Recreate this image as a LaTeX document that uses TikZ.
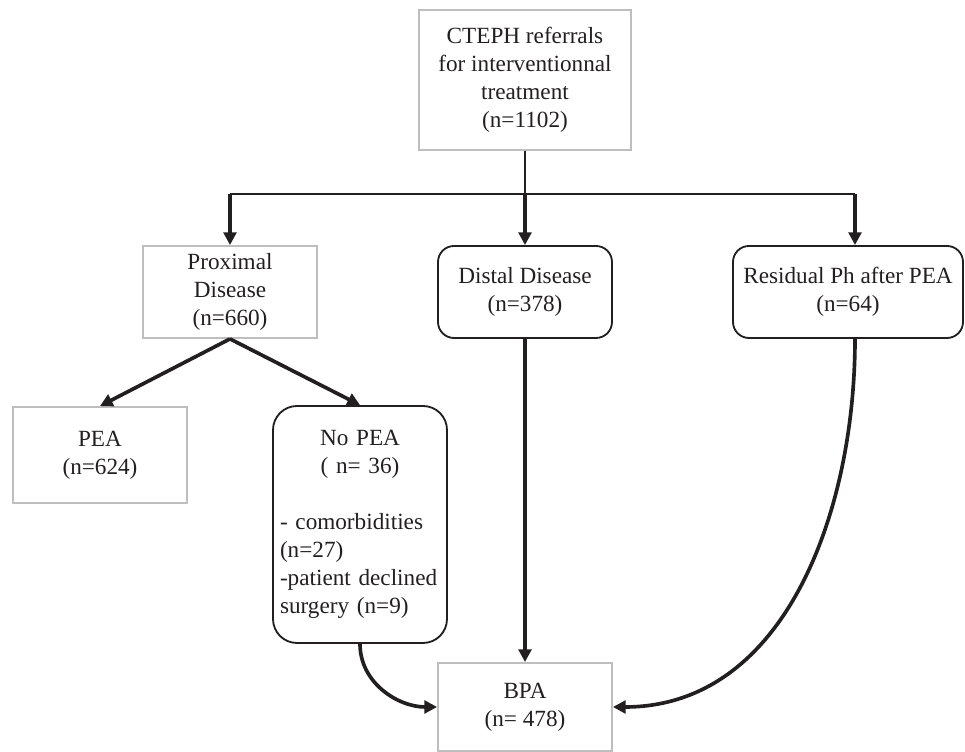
\documentclass[tikz,border=0pt]{standalone}
\usepackage{fontspec}
\setmainfont{Liberation Serif}
\usepackage{tikz}
\usetikzlibrary{arrows.meta,positioning,calc}
\definecolor{boxgray}{RGB}{190,190,190}
\definecolor{ink}{RGB}{35,31,32}
\tikzset{
  bx/.style   = {rectangle, draw=boxgray, line width=1.3pt, align=center,
                 inner sep=4pt, text=ink},
  rbx/.style  = {rectangle, draw=ink, rounded corners=0.4cm, line width=1.3pt,
                 align=center, inner sep=4pt, text=ink},
  edg/.style  = {draw=ink, line width=1.4pt},
  arr/.style  = {draw=ink, line width=2.6pt,
                 -{Triangle[length=9pt,width=9pt]}},
}
\begin{document}
\begin{tikzpicture}[font=\fontsize{16.5}{20}\selectfont]
  \useasboundingbox (0,0) rectangle (24.125,18.8);
  % first level
  \node[bx, minimum width=5.3cm, minimum height=3.5cm] (ref) at (13.125,16.8)
    {CTEPH referrals\\for interventionnal\\treatment\\(n=1102)};
  \coordinate (jl) at (5.75,13.96);
  \coordinate (jm) at (13.125,13.96);
  \coordinate (jr) at (21.375,13.96);
  % second level
  \node[bx, minimum width=4.35cm, minimum height=2.3cm] (prox) at (5.75,11.5)
    {Proximal\\Disease\\(n=660)};
  \node[rbx, minimum width=4.35cm, minimum height=2.3cm] (dist) at (13.125,11.5)
    {Distal Disease\\(n=378)};
  \node[rbx, minimum width=5.75cm, minimum height=2.3cm] (resid) at (21.2,11.5)
    {Residual Ph after PEA\\(n=64)};
  % third level
  \node[bx, minimum width=4.35cm, minimum height=2.4cm] (pea) at (2.5,7.425)
    {PEA\\(n=624)};
  \node[rbx, rounded corners=0.6cm, minimum width=4.35cm, minimum height=5.925cm,
        text width=4.0cm, align=left, inner xsep=0.175cm, inner ysep=0.2cm]
        (nopea) at (9.0,5.6875)
    {{\centering No PEA\\( n= 36)\par}
     \vspace{\baselineskip}
     \hyphenpenalty=10000
     - comorbidities\\
     (n=27)\\
     -patient declined\\
     surgery (n=9)};
  \node[bx, minimum width=4.35cm, minimum height=2.2cm] (bpa) at (13.125,1.125)
    {BPA\\(n= 478)};
  % connectors
  \draw[edg] (ref.south) -- (jm);
  \draw[edg] (jl) -- (jr);
  \draw[arr] (jl) -- (prox.north);
  \draw[arr] (jm) -- (dist.north);
  \draw[arr] (jr) -- (jr |- resid.north);
  \draw[arr] (prox.south) -- (pea.north);
  \draw[arr] (prox.south) -- (nopea.north);
  \draw[arr] (dist.south) -- (bpa.north);
  \draw[arr] (nopea.south) to[out=-90,in=180] (bpa.west);
  \draw[arr] (jr |- resid.south) to[out=-90,in=0] (bpa.east);
\end{tikzpicture}
\end{document}
